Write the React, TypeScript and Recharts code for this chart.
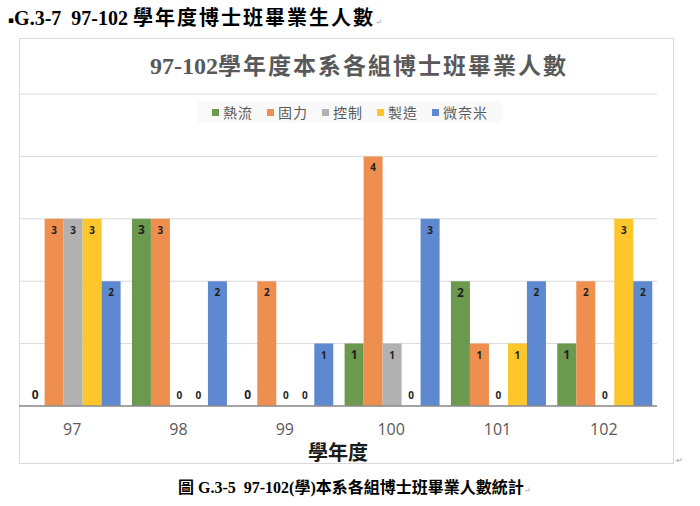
import { Bar, BarChart, CartesianGrid, LabelList, Legend, XAxis, YAxis } from "recharts";

const years = ["97", "98", "99", "100", "101", "102"];
const thermal = [0, 3, 0, 1, 2, 1]; // 熱流
const solid = [3, 3, 2, 4, 1, 2]; // 固力
const control = [3, 0, 0, 1, 0, 0]; // 控制
const manufacturing = [3, 0, 0, 0, 1, 3]; // 製造
const micro = [2, 2, 1, 3, 2, 2]; // 微奈米
const yTicks = [0, 1, 2, 3, 4, 5];

const series = [
  { name: "熱流", values: thermal, color: "#6b9a4f", labelSize: 12 },
  { name: "固力", values: solid, color: "#ef8f4f", labelSize: 10 },
  { name: "控制", values: control, color: "#b1b1b1", labelSize: 10 },
  { name: "製造", values: manufacturing, color: "#fdc62a", labelSize: 10 },
  { name: "微奈米", values: micro, color: "#5e88cf", labelSize: 10 },
];
const seriesOrder = series.map((s) => s.name);

const data = years.map((year, i) => {
  const row: Record<string, string | number> = { year };
  series.forEach((s) => {
    row[s.name] = s.values[i];
  });
  return row;
});

const serif = "'Liberation Serif', 'Noto Sans CJK TC', 'DejaVu Serif', serif";
const cjk = "'Noto Sans CJK TC', sans-serif";

// value labels sit just inside the top of the bar, zeros just above the axis
const makeLabel = (fontSize: number) => (props: any) => {
  const x = Number(props.x);
  const y = Number(props.y);
  const w = Number(props.width);
  const v = Number(props.value);
  return (
    <text
      x={x + w / 2}
      y={v === 0 ? y - 11 : y + 11}
      textAnchor="middle"
      dominantBaseline="central"
      fontSize={fontSize}
      fontWeight="bold"
      fontFamily="'Open Sans', sans-serif"
      fill="#1f1f1f"
    >
      {v}
    </text>
  );
};

const renderLegend = (props: any) => {
  const items = [...(props.payload || [])].sort(
    (a: any, b: any) => seriesOrder.indexOf(a.value) - seriesOrder.indexOf(b.value)
  );
  return (
    <div style={{ textAlign: "center", height: 22, paddingLeft: 24 }}>
      <div
        style={{
          display: "inline-flex",
          alignItems: "center",
          gap: 14,
          height: 22,
          padding: "0 14px",
          background: "#f9f9f9",
          fontFamily: cjk,
          fontSize: 14,
          letterSpacing: 1,
          color: "#595959",
        }}
      >
        {items.map((item: any) => (
          <span key={item.value} style={{ display: "inline-flex", alignItems: "center" }}>
            <span style={{ width: 7, height: 7, background: item.color, marginRight: 4 }} />
            {item.value}
          </span>
        ))}
      </div>
    </div>
  );
};

export default function App() {
  return (
    <div
      style={{
        position: "absolute",
        left: 0,
        top: 0,
        width: 700,
        height: 506,
        background: "#fff",
        overflow: "hidden",
      }}
    >
      <div
        style={{
          position: "absolute",
          left: 8,
          top: 6,
          fontFamily: serif,
          fontWeight: "bold",
          fontSize: 20,
          lineHeight: "24px",
          color: "#000",
          whiteSpace: "pre",
        }}
      >
        <span style={{ fontSize: 9, fontFamily: "'DejaVu Sans'", verticalAlign: "2px" }}>▪</span>
        {"G.3-7  97-102 "}
        <span style={{ letterSpacing: 2 }}>學年度博士班畢業生人數</span>
        <span style={{ fontSize: 8, color: "#a0a0a0", fontWeight: "normal" }}>↵</span>
      </div>

      <div
        style={{
          position: "absolute",
          left: 19,
          top: 38,
          width: 655,
          height: 426,
          border: "1px solid #d9d9d9",
          boxSizing: "border-box",
        }}
      />

      <div style={{ position: "absolute", left: 19, top: 38 }}>
        <BarChart
          width={654}
          height={428}
          data={data}
          margin={{ top: 34, right: 16, left: 0, bottom: 0 }}
          barCategoryGap={6.6}
          barGap={0}
        >
          <CartesianGrid vertical={false} stroke="#d9d9d9" />
          <XAxis
            dataKey="year"
            height={60}
            tickLine={false}
            tickSize={0}
            tickMargin={18}
            axisLine={{ stroke: "#8c8c8c", strokeWidth: 1.5 }}
            tick={{ fill: "#595959", fontSize: 16, fontFamily: "'Open Sans', sans-serif" }}
            label={{
              value: "學年度",
              position: "insideBottom",
              offset: 6,
              fill: "#1a1a1a",
              fontSize: 20,
              fontWeight: "bold",
              fontFamily: cjk,
            }}
          />
          <YAxis hide domain={[0, 5]} ticks={yTicks} />
          <Legend
            verticalAlign="top"
            align="center"
            content={renderLegend}
            wrapperStyle={{ top: 63 }}
          />
          {series.map((s) => (
            <Bar
              key={s.name}
              dataKey={s.name}
              fill={s.color}
              minPointSize={(value: number) => (value === 0 ? 0.01 : 0)}
              isAnimationActive={false}
            >
              <LabelList dataKey={s.name} content={makeLabel(s.labelSize)} />
            </Bar>
          ))}
        </BarChart>
      </div>

      <div
        style={{
          position: "absolute",
          left: 150,
          top: 50,
          fontSize: 24,
          lineHeight: "28px",
          color: "#595959",
          whiteSpace: "pre",
        }}
      >
        <span style={{ fontFamily: serif, fontWeight: "bold" }}>97-102</span>
        <span style={{ fontFamily: cjk, fontSize: 23, letterSpacing: 2, fontWeight: 600 }}>
          學年度本系各組博士班畢業人數
        </span>
      </div>

      <div
        style={{
          position: "absolute",
          left: 676,
          top: 456,
          fontSize: 8,
          color: "#a0a0a0",
        }}
      >
        ↵
      </div>

      <div
        style={{
          position: "absolute",
          left: 178,
          top: 478,
          fontFamily: serif,
          fontWeight: "bold",
          fontSize: 16,
          lineHeight: "20px",
          color: "#000",
          whiteSpace: "pre",
        }}
      >
        {"圖 G.3-5  97-102(學)本系各組博士班畢業人數統計"}
        <span style={{ fontSize: 8, color: "#a0a0a0", fontWeight: "normal" }}>↵</span>
      </div>
    </div>
  );
}
